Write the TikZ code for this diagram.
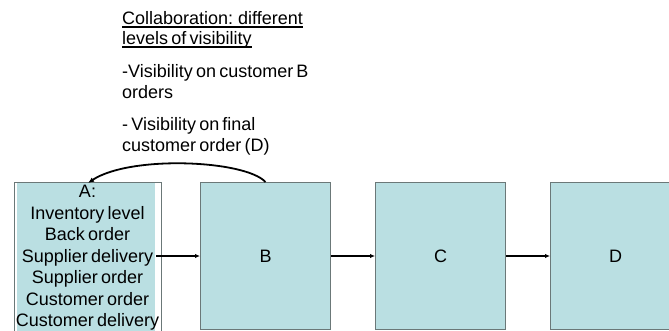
\documentclass[tikz,border=0pt]{standalone}
\usepackage{fontspec}
\setmainfont{Liberation Sans}
\usetikzlibrary{arrows.meta}
\definecolor{boxfill}{HTML}{BADFE2}
\definecolor{boxline}{HTML}{6B7878}
\newcommand{\tightwords}{\spaceskip=3.2pt\relax}
\begin{document}
\begin{tikzpicture}[x=1pt,y=-1pt,
  stage/.style={draw=boxline, line width=1pt, fill=boxfill,
    minimum width=130pt, minimum height=147pt, inner sep=0pt,
    anchor=north west, font=\fontsize{18}{21.5}\selectfont},
  note/.style={anchor=base west, inner sep=0pt,
    font=\fontsize{18}{20.5}\selectfont\tightwords},
  flow/.style={line width=2.3pt, -{Latex[length=5pt,width=4.5pt]}},
  feedback/.style={line width=1.8pt, -{Latex[length=6pt,width=5pt]}},
  uline/.style={line width=1.2pt}
]
\useasboundingbox (0,0) rectangle (669,331);
\begin{scope}
  \clip (0,0) rectangle (669,331);
  % stage A: outline with a slightly inset fill
  \fill[boxfill] (17,183) rectangle (155,340);
  \node[draw=boxline, line width=1pt, minimum width=147pt, minimum height=160pt,
        inner sep=0pt, anchor=north west] (A) at (14,182) {};
  \node[align=center, anchor=north, inner sep=0pt,
        font=\fontsize{18}{21.5}\selectfont\tightwords] (Atext) at (87.5,185.2)
    {A:\\Inventory level\\Back order\\Supplier delivery\\Supplier order\\Customer order\\Customer delivery};
  % stages B, C, D
  \node[stage] (B) at (200,182) {B};
  \node[stage] (C) at (375,182) {C};
  \node[stage] (D) at (550,182) {D};
\end{scope}

% flow between stages
\coordinate (aout) at ([xshift=-6pt]A.east);
\draw[flow] (aout |- B.west) -- (B.west);
\draw[flow] (B.east) -- (C.west);
\draw[flow] (C.east) -- (D.west);

% visibility feedback from B to A
\draw[feedback] (B.north) .. controls (245,160) and (130,155) .. ([yshift=-1pt]A.north);

% notes
\node[note] (t1) at (122,25) {Collaboration: different};
\node[note] (t2) at (122,45) {levels of visibility};
\node[note] (t3) at (122,78) {-Visibility on customer B};
\node[note] (t4) at (122,99) {orders};
\node[note] (t5) at (122,131) {- Visibility on final};
\node[note] (t6) at (122,152) {customer order (D)};
\draw[uline] ([yshift=-2pt]t1.base west) -- ([yshift=-2pt]t1.base east);
\draw[uline] ([yshift=-2pt]t2.base west) -- ([yshift=-2pt]t2.base east);
\end{tikzpicture}
\end{document}
